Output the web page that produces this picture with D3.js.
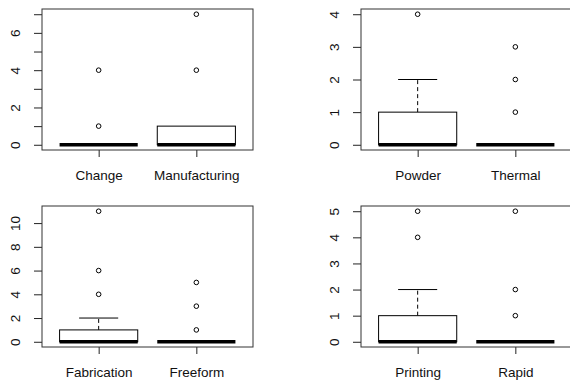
<!DOCTYPE html>
<html>
<head>
<meta charset="utf-8">
<script src="https://cdn.jsdelivr.net/npm/d3@7"></script>
<style>
    body { margin: 0; background: #fff; }
    text { font-family: "Liberation Sans", Arial, sans-serif; font-size: 13.5px; fill: #111; }
</style>
</head>
<body>
<div id="figure"></div>
<script>
// one box per category, two categories per panel
var categories = ["Change", "Manufacturing", "Powder", "Thermal", "Fabrication", "Freeform", "Printing", "Rapid"];
var lowerWhisker = [0, 0, 0, 0, 0, 0, 0, 0];
var q1 = [0, 0, 0, 0, 0, 0, 0, 0];
var median = [0, 0, 0, 0, 0, 0, 0, 0];
var q3 = [0, 1, 1, 0, 1, 0, 1, 0];
var upperWhisker = [0, 1, 2, 0, 2, 0, 2, 0];
var outliers = [[1, 4], [4, 7], [4], [1, 2, 3], [4, 6, 11], [1, 3, 5], [4, 5], [1, 2, 5]];

var yTicks = [
    [0, 1, 2, 3, 4, 5, 6, 7],
    [0, 1, 2, 3, 4],
    [0, 2, 4, 6, 8, 10],
    [0, 1, 2, 3, 4, 5]
];
var yTickLabels = [
    ["0", "", "2", "", "4", "", "6", ""],
    ["0", "1", "2", "3", "4"],
    ["0", "2", "4", "6", "8", "10"],
    ["0", "1", "2", "3", "4", "5"]
];

var W = 570, H = 386;
var plotW = 211, plotH = 141;
var panelPos = [[42, 9], [361, 9], [42, 206], [361, 206]];

var svg = d3.select("#figure")
    .append("svg")
    .attr("width", W)
    .attr("height", H);

/**
 * 
 * @param {number} p panel index
 */
function drawPanel(p) {
    var idx = [p * 2, p * 2 + 1];
    var g = svg.append("g")
        .attr("transform", `translate(${panelPos[p][0]},${panelPos[p][1]})`);

    var vals = [];
    idx.forEach(i => {
        vals.push(lowerWhisker[i], upperWhisker[i]);
        outliers[i].forEach(v => vals.push(v));
    });
    var lo = d3.min(vals), hi = d3.max(vals);
    var pad = (hi - lo) * 0.04;

    var y = d3.scaleLinear()
        .domain([lo - pad, hi + pad])
        .range([plotH, 0]);
    var x = d3.scaleLinear()
        .domain([0.42, 2.58])
        .range([0, plotW]);

    // y axis, labels parallel to the axis
    var ya = g.append("g")
        .call(d3.axisLeft(y)
            .tickValues(yTicks[p])
            .tickFormat((d, k) => yTickLabels[p][k])
            .tickSize(8));
    ya.select(".domain").remove();
    ya.selectAll("line").attr("stroke", "#222");
    ya.selectAll("text")
        .attr("x", null)
        .attr("dy", null)
        .attr("text-anchor", "middle")
        .attr("transform", "translate(-22,0) rotate(-90)");

    // x axis ticks + names
    var xa = g.append("g")
        .attr("transform", `translate(0,${plotH})`)
        .call(d3.axisBottom(x)
            .tickValues([1, 2])
            .tickFormat((d, k) => categories[idx[k]])
            .tickSize(7));
    xa.select(".domain").remove();
    xa.selectAll("line").attr("stroke", "#222");
    xa.selectAll("text").attr("dy", null).attr("y", 30);

    d3.selectAll(".tick text").attr("font-family", null).attr("font-size", null).attr("fill", null);

    idx.forEach((i, k) => {
        var cx = x(k + 1);
        var bw = x(k + 1.4) - x(k + 0.6);
        var sw = x(k + 1.2) - x(k + 0.8);

        // whiskers
        if (upperWhisker[i] > q3[i]) {
            g.append("line")
                .attr("x1", cx).attr("x2", cx)
                .attr("y1", y(q3[i])).attr("y2", y(upperWhisker[i]))
                .attr("stroke", "#000").attr("stroke-dasharray", "4,3");
            g.append("line")
                .attr("x1", cx - sw / 2).attr("x2", cx + sw / 2)
                .attr("y1", y(upperWhisker[i])).attr("y2", y(upperWhisker[i]))
                .attr("stroke", "#000");
        }
        if (lowerWhisker[i] < q1[i]) {
            g.append("line")
                .attr("x1", cx).attr("x2", cx)
                .attr("y1", y(q1[i])).attr("y2", y(lowerWhisker[i]))
                .attr("stroke", "#000").attr("stroke-dasharray", "4,3");
        }

        // box
        g.append("rect")
            .attr("x", cx - bw / 2)
            .attr("y", y(q3[i]))
            .attr("width", bw)
            .attr("height", y(q1[i]) - y(q3[i]))
            .attr("fill", "#fff")
            .attr("stroke", "#000");

        // median
        g.append("line")
            .attr("x1", cx - bw / 2).attr("x2", cx + bw / 2)
            .attr("y1", y(median[i])).attr("y2", y(median[i]))
            .attr("stroke", "#000")
            .attr("stroke-width", 3.5);

        g.selectAll(null)
            .data(outliers[i])
            .enter()
            .append("circle")
            .attr("cx", cx)
            .attr("cy", d => y(d))
            .attr("r", 2.3)
            .attr("fill", "none")
            .attr("stroke", "#000");
    });

    // frame
    g.append("rect")
        .attr("x", 0).attr("y", 0)
        .attr("width", plotW).attr("height", plotH)
        .attr("fill", "none")
        .attr("stroke", "#333");
}

for (let p = 0; p < 4; p++) drawPanel(p);
</script>
</body>
</html>
